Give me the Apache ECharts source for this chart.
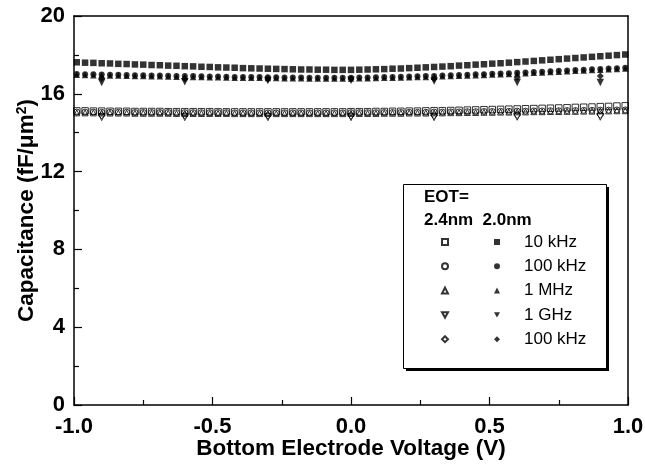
<!DOCTYPE html>
<html>
<head>
<meta charset="utf-8">
<script src="https://cdn.jsdelivr.net/npm/echarts@6/dist/echarts.min.js"></script>
<style>html,body{margin:0;padding:0;background:#fff}#c{width:645px;height:464px}</style>
</head>
<body>
<div id="c"></div>
<script>
// Voltage (V) for the dense sweeps
var vDense = [-0.99,-0.96,-0.93,-0.90,-0.87,-0.84,-0.81,-0.78,-0.75,-0.72,-0.69,-0.66,-0.63,-0.60,-0.57,-0.54,-0.51,-0.48,-0.45,-0.42,-0.39,-0.36,-0.33,-0.30,-0.27,-0.24,-0.21,-0.18,-0.15,-0.12,-0.09,-0.06,-0.03,0.00,0.03,0.06,0.09,0.12,0.15,0.18,0.21,0.24,0.27,0.30,0.33,0.36,0.39,0.42,0.45,0.48,0.51,0.54,0.57,0.60,0.63,0.66,0.69,0.72,0.75,0.78,0.81,0.84,0.87,0.90,0.93,0.96,0.99];
// Voltage (V) for the sparse sweeps
var vSparse = [-0.9,-0.6,-0.3,0.0,0.3,0.6,0.9];

// EOT 2.0 nm (filled)
var f10k = [17.62,17.60,17.59,17.57,17.56,17.54,17.53,17.51,17.50,17.48,17.47,17.45,17.44,17.42,17.41,17.39,17.38,17.36,17.35,17.34,17.32,17.31,17.30,17.29,17.28,17.27,17.26,17.25,17.25,17.24,17.24,17.23,17.23,17.23,17.24,17.25,17.26,17.27,17.29,17.30,17.32,17.34,17.36,17.38,17.40,17.42,17.45,17.47,17.50,17.52,17.55,17.57,17.60,17.63,17.66,17.69,17.72,17.75,17.78,17.81,17.84,17.87,17.90,17.93,17.96,17.99,18.02];
var f100k = [17.02,17.01,17.00,16.99,16.98,16.98,16.97,16.96,16.95,16.94,16.94,16.93,16.92,16.91,16.91,16.90,16.89,16.89,16.88,16.87,16.87,16.86,16.86,16.85,16.85,16.84,16.84,16.84,16.83,16.83,16.83,16.83,16.83,16.83,16.84,16.84,16.85,16.86,16.87,16.88,16.89,16.90,16.91,16.92,16.94,16.95,16.97,16.98,17.00,17.01,17.03,17.05,17.06,17.08,17.10,17.12,17.14,17.16,17.18,17.20,17.22,17.24,17.26,17.28,17.30,17.32,17.34];
var f1M = [16.98,16.97,16.96,16.95,16.94,16.94,16.93,16.92,16.91,16.90,16.90,16.89,16.88,16.87,16.87,16.86,16.85,16.85,16.84,16.83,16.83,16.82,16.82,16.81,16.81,16.80,16.80,16.80,16.79,16.79,16.79,16.79,16.79,16.79,16.80,16.80,16.81,16.82,16.83,16.84,16.85,16.86,16.87,16.88,16.90,16.91,16.93,16.94,16.96,16.97,16.99,17.01,17.02,17.04,17.06,17.08,17.10,17.12,17.14,17.16,17.18,17.20,17.22,17.24,17.26,17.28,17.30];
var f1G = [16.58,16.62,16.68,16.70,16.66,16.58,16.58];
var f100kb = [16.80,16.78,16.76,16.76,16.78,16.84,16.92];

// EOT 2.4 nm (open)
var o10k = [15.12,15.12,15.11,15.11,15.10,15.10,15.10,15.09,15.09,15.09,15.09,15.08,15.08,15.08,15.08,15.08,15.08,15.07,15.07,15.07,15.07,15.07,15.07,15.07,15.07,15.07,15.07,15.07,15.07,15.07,15.07,15.07,15.07,15.08,15.08,15.08,15.09,15.09,15.10,15.10,15.11,15.11,15.12,15.13,15.13,15.14,15.15,15.16,15.17,15.18,15.19,15.20,15.21,15.22,15.23,15.24,15.25,15.26,15.27,15.28,15.30,15.31,15.32,15.34,15.35,15.37,15.38];
var o100k = [15.06,15.06,15.06,15.05,15.05,15.05,15.05,15.04,15.04,15.04,15.04,15.04,15.03,15.03,15.03,15.03,15.03,15.03,15.03,15.02,15.02,15.02,15.02,15.02,15.02,15.02,15.02,15.02,15.02,15.02,15.02,15.02,15.02,15.03,15.03,15.03,15.03,15.04,15.04,15.04,15.05,15.05,15.05,15.06,15.06,15.07,15.07,15.08,15.08,15.09,15.09,15.10,15.10,15.11,15.11,15.12,15.12,15.13,15.13,15.14,15.14,15.15,15.15,15.16,15.16,15.17,15.17];
var o1M = [15.02,15.02,15.02,15.01,15.01,15.01,15.01,15.00,15.00,15.00,15.00,15.00,14.99,14.99,14.99,14.99,14.99,14.99,14.99,14.98,14.98,14.98,14.98,14.98,14.98,14.98,14.98,14.98,14.98,14.98,14.98,14.98,14.98,14.99,14.99,14.99,14.99,15.00,15.00,15.00,15.01,15.01,15.01,15.02,15.02,15.03,15.03,15.04,15.04,15.05,15.05,15.06,15.06,15.07,15.07,15.08,15.08,15.09,15.09,15.10,15.10,15.11,15.11,15.12,15.12,15.13,15.13];
var o1G = [14.80,14.80,14.80,14.80,14.80,14.82,14.82];
var o100kb = [14.90,14.90,14.89,14.89,14.90,14.91,14.92];

var legendLabels = {
  'f10k':'10 kHz','f100k':'100 kHz','f1M':'1 MHz','f1G':'1 GHz','f100kb':'100 kHz'
};

function pts(xs, ys){ return xs.map(function(x,i){ return [x, ys[i]]; }); }

var FONT = '"Liberation Sans", Arial, sans-serif';
var DOWN = 'path://M0,0L10,0L5,9Z';
var filledStyle = {color:'#000'};
var openStyle = {color:'rgba(255,255,255,0)', borderColor:'#000', borderWidth:1};

function S(name, xs, ys, symbol, size, open){
  return {
    name:name, type:'scatter', data:pts(xs, ys), symbol:symbol, symbolSize:size,
    itemStyle: open ? openStyle : filledStyle,
    emphasis:{disabled:true}, silent:true, animation:false
  };
}

var series = [
  S('o10k', vDense, o10k, 'rect', 6.5, true),
  S('o100k', vDense, o100k, 'circle', 6, true),
  S('o1M', vDense, o1M, 'triangle', 6, true),
  S('o1G', vSparse, o1G, DOWN, 7, true),
  S('o100kb', vSparse, o100kb, 'diamond', 7, true),
  S('f10k', vDense, f10k, 'rect', 6.5, false),
  S('f100k', vDense, f100k, 'circle', 6, false),
  S('f1M', vDense, f1M, 'triangle', 6.5, false),
  S('f1G', vSparse, f1G, DOWN, 7.5, false),
  S('f100kb', vSparse, f100kb, 'diamond', 7, false)
];

var chart = echarts.init(document.getElementById('c'), null, {renderer:'canvas'});
var lbl = {fontFamily:FONT, fontWeight:'bold', fontSize:22, color:'#000'};
chart.setOption({
  animation:false,
  backgroundColor:'#fff',
  grid:{left:74, right:17, top:16, bottom:59, containLabel:false, outerBoundsMode:'none'},
  xAxis:[{
    type:'value', min:-1, max:1, interval:0.5,
    axisLine:{show:true, onZero:false, lineStyle:{color:'#000', width:1.5}},
    axisTick:{show:true, inside:true, length:8, lineStyle:{color:'#000', width:1.2}},
    minorTick:{show:true, splitNumber:2, length:5, lineStyle:{color:'#000', width:1.2}},
    splitLine:{show:false},
    axisLabel:Object.assign({margin:11, formatter:function(v){return v.toFixed(1);}}, lbl),
    name:'Bottom Electrode Voltage (V)', nameLocation:'middle', nameGap:32, nameMoveOverlap:false,
    nameTextStyle:{fontFamily:FONT, fontWeight:'bold', fontSize:22.5, color:'#000'}
  },{
    type:'value', min:-1, max:1, position:'top',
    axisLine:{show:true, onZero:false, lineStyle:{color:'#000', width:1.5}},
    axisTick:{show:false}, axisLabel:{show:false}, splitLine:{show:false}
  }],
  yAxis:[{
    type:'value', min:0, max:20, interval:4,
    axisLine:{show:true, onZero:false, lineStyle:{color:'#000', width:1.5}},
    axisTick:{show:true, inside:true, length:8, lineStyle:{color:'#000', width:1.2}},
    minorTick:{show:true, splitNumber:2, length:5, lineStyle:{color:'#000', width:1.2}},
    splitLine:{show:false},
    axisLabel:Object.assign({margin:9}, lbl),
    name:'Capacitance (fF/\u03bcm{sup|2})', nameLocation:'middle', nameGap:36, nameRotate:90, nameMoveOverlap:false,
    nameTextStyle:{fontFamily:FONT, fontWeight:'bold', fontSize:22.5, color:'#000',
      rich:{sup:{fontFamily:FONT, fontWeight:'bold', fontSize:14, color:'#000', verticalAlign:'top', lineHeight:14, padding:[0,0,12,0]}}}
  },{
    type:'value', min:0, max:20, position:'right',
    axisLine:{show:true, onZero:false, lineStyle:{color:'#000', width:1.5}},
    axisTick:{show:false}, axisLabel:{show:false}, splitLine:{show:false}
  }],
  legend:[{
    data:['o10k','o100k','o1M','o1G','o100kb'],
    orient:'vertical', left:441, top:232, padding:0,
    itemWidth:6, itemHeight:6, itemGap:4.3, selectedMode:false,
    formatter:function(){return ' ';},
    textStyle:{fontFamily:FONT, fontSize:17, lineHeight:20, color:'#000'}, z:10
  },{
    data:['f10k','f100k','f1M','f1G','f100kb'],
    orient:'vertical', left:494, top:232, padding:0,
    itemWidth:6, itemHeight:6, itemGap:4.3, selectedMode:false,
    formatter:function(n){return legendLabels[n];},
    textStyle:{fontFamily:FONT, fontSize:17, lineHeight:20, color:'#000', padding:[0,0,0,19]}, z:10
  }],
  graphic:[
    {type:'rect', shape:{x:406, y:187, width:203, height:184}, style:{fill:'#000'}, z:1, silent:true},
    {type:'rect', shape:{x:403.5, y:184.5, width:203, height:184}, style:{fill:'#fff', stroke:'#000', lineWidth:1}, z:2, silent:true},
    {type:'text', left:424, top:189, style:{text:'EOT=', font:'bold 17px ' + FONT, fill:'#000'}, z:3, silent:true},
    {type:'text', left:424, top:212, style:{text:'2.4nm  2.0nm', font:'bold 17px ' + FONT, fill:'#000'}, z:3, silent:true}
  ],
  series:series
});
</script>
</body>
</html>
